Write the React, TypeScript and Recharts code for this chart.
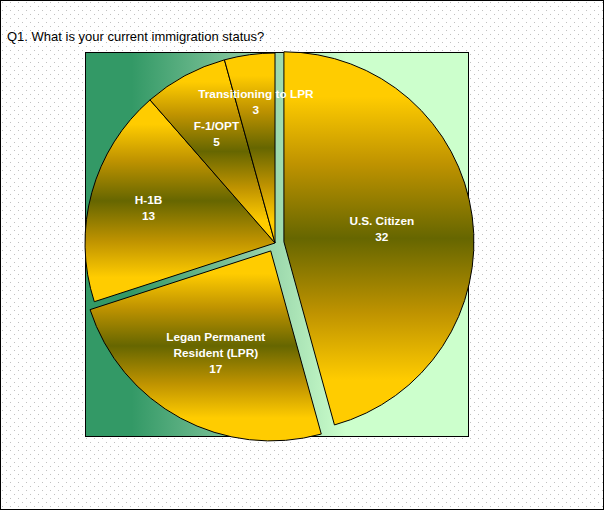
import { PieChart, Pie, Cell } from "recharts";

// survey answers, clockwise from 12 o'clock
const categories = [
  "U.S. Citizen",
  "Legan Permanent Resident (LPR)",
  "H-1B",
  "F-1/OPT",
  "Transitioning to LPR",
];
const counts = [32, 17, 13, 5, 3];
const labelLines = [
  ["U.S. Citizen"],
  ["Legan Permanent", "Resident (LPR)"],
  ["H-1B"],
  ["F-1/OPT"],
  ["Transitioning to LPR"],
];

// styling
const exploded = [true, true, false, false, false];
const labelRadius = [0.52, 0.61, 0.69, 0.65, 0.75];
const CX = 275;
const CY = 243;
const R = 190;
const EXPLODE = 9;
const RAD = Math.PI / 180;
const FONT = "'Liberation Sans', Arial, sans-serif";

const data = categories.map((name, i) => ({ name, value: counts[i] }));
const total = counts.reduce((a, b) => a + b, 0);

// offset of each slice along its middle angle
function sliceOffset(i: number) {
  const before = counts.slice(0, i).reduce((a, b) => a + b, 0);
  const theta = ((before + counts[i] / 2) / total) * 360 * RAD;
  return { dx: EXPLODE * Math.sin(theta), dy: -EXPLODE * Math.cos(theta) };
}

type Group = { key: string; show: (i: number) => boolean; dx: number; dy: number };

const groups: Group[] = [
  { key: "base", show: (i) => !exploded[i], dx: 0, dy: 0 },
  ...exploded.flatMap((e, i) =>
    e ? [{ key: "ex" + i, show: (j: number) => j === i, ...sliceOffset(i) }] : []
  ),
];

function makeLabel(show: (i: number) => boolean) {
  return (p: any) => {
    const i = p.index;
    if (!show(i)) return null;
    const r = R * labelRadius[i];
    const x = p.cx + r * Math.cos(-p.midAngle * RAD);
    const y = p.cy + r * Math.sin(-p.midAngle * RAD);
    const lines = [...labelLines[i], String(counts[i])];
    const lh = 16;
    const y0 = y - ((lines.length - 1) * lh) / 2 + 4;
    return (
      <text
        key={"lbl" + i}
        x={x}
        y={y0}
        textAnchor="middle"
        fill="#ffffff"
        fontFamily={FONT}
        fontWeight="bold"
        fontSize={11.8}
      >
        {lines.map((t, k) => (
          <tspan key={k} x={x} y={y0 + k * lh}>
            {t}
          </tspan>
        ))}
      </text>
    );
  };
}

const dots =
  "url(\"data:image/svg+xml;utf8,<svg xmlns='http://www.w3.org/2000/svg' width='8' height='8'><rect x='1' y='1' width='1' height='1' fill='%23c0c0c0'/><rect x='5' y='5' width='1' height='1' fill='%23c0c0c0'/></svg>\")";

export default function App() {
  return (
    <div
      style={{
        position: "absolute",
        left: 0,
        top: 0,
        width: 604,
        height: 510,
        boxSizing: "border-box",
        border: "1px solid #000",
        backgroundColor: "#ffffff",
        backgroundImage: dots,
        overflow: "hidden",
      }}
    >
      <div
        style={{
          position: "absolute",
          left: 6,
          top: 29,
          fontFamily: FONT,
          fontSize: 13,
          lineHeight: "14px",
          color: "#000",
          whiteSpace: "nowrap",
        }}
      >
        Q1. What is your current immigration status?
      </div>
      <div
        style={{
          position: "absolute",
          left: 84,
          top: 51,
          width: 384,
          height: 385,
          boxSizing: "border-box",
          border: "1px solid #000",
          background:
            "linear-gradient(to right, #339966 0%, #339966 12%, #88c8a0 42%, #ccffcc 68%, #ccffcc 100%)",
        }}
      />
      <div style={{ position: "absolute", left: -1, top: -1 }}>
        <PieChart width={604} height={510} margin={{ top: 0, right: 0, bottom: 0, left: 0 }}>
          <defs>
            <linearGradient id="sliceFill" x1="0" y1="0" x2="0" y2="1">
              <stop offset="0%" stopColor="#ffcc00" />
              <stop offset="12%" stopColor="#ffcc00" />
              <stop offset="30%" stopColor="#bf9300" />
              <stop offset="50%" stopColor="#666600" />
              <stop offset="70%" stopColor="#bf9300" />
              <stop offset="88%" stopColor="#ffcc00" />
              <stop offset="100%" stopColor="#ffcc00" />
            </linearGradient>
          </defs>
          {groups.map((g) => (
            <Pie
              key={g.key}
              data={data}
              dataKey="value"
              nameKey="name"
              cx={CX + g.dx}
              cy={CY + g.dy}
              outerRadius={R}
              startAngle={90}
              endAngle={-270}
              isAnimationActive={false}
              labelLine={false}
              label={makeLabel(g.show)}
            >
              {data.map((d, i) => (
                <Cell
                  key={d.name}
                  fill={g.show(i) ? "url(#sliceFill)" : "none"}
                  stroke={g.show(i) ? "#000000" : "none"}
                  strokeWidth={1}
                />
              ))}
            </Pie>
          ))}
        </PieChart>
      </div>
    </div>
  );
}
